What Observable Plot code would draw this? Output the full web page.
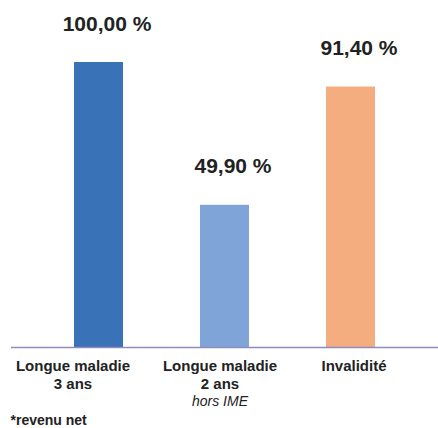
<!DOCTYPE html>
<html>
<head>
<meta charset="utf-8">
<script src="https://cdn.jsdelivr.net/npm/d3@7"></script>
<script src="https://cdn.jsdelivr.net/npm/@observablehq/plot@0.6"></script>
<style>
  html, body { margin: 0; padding: 0; background: #fff; }
  #chart svg { display: block; font-family: "Liberation Sans", Arial, sans-serif; }
</style>
</head>
<body>
<div id="chart"></div>
<script>
const categories = ["LM3", "LM2", "INV"];
const values = [100.00, 49.90, 91.40];
const valueLabels = ["100,00 %", "49,90 %", "91,40 %"];
const categoryLines1 = ["Longue maladie", "Longue maladie", "Invalidité"];
const categoryLines2 = ["3 ans", "2 ans", ""];
const categoryNotes = ["", "hors IME", ""];
const colors = ["#3a72b8", "#7fa5d8", "#f4ad7f"];
const footnote = "*revenu net";

const data = categories.map((c, i) => ({
  cat: c, value: values[i], label: valueLabels[i],
  line1: categoryLines1[i], line2: categoryLines2[i], note: categoryNotes[i], color: colors[i]
}));

const labelDx = [-26, -5, 3];
const catTextMarks = data.map((d, i) => [
  Plot.text([d], {x: "cat", y: 0, text: (d) => d.line2 ? d.line1 + "\n" + d.line2 : d.line1,
    dx: labelDx[i], dy: 11, lineAnchor: "top", lineHeight: 1.2, fontSize: 15, fontWeight: "bold",
    fill: "#222", textAnchor: "middle"}),
  d.note ? Plot.text([d], {x: "cat", y: 0, text: "note", dx: labelDx[i], dy: 58, lineAnchor: "bottom",
    fontSize: 14, fontStyle: "italic", fill: "#222", textAnchor: "middle"}) : null
]).flat().filter(Boolean);

const chart = Plot.plot({
  width: 438,
  height: 428,
  marginTop: 62,
  marginBottom: 81,
  marginLeft: 11,
  marginRight: 0,
  x: {domain: categories, paddingInner: 0.613, paddingOuter: 0.494, axis: null},
  y: {domain: [0, 100], axis: null},
  marks: [
    Plot.barY(data, {x: "cat", y: "value", fill: (d) => d.color}),
    Plot.ruleY([0], {stroke: "#8f8bc0", strokeWidth: 1.5}),
    Plot.text(data, {x: "cat", y: "value", text: "label", dx: 8, dy: -32, lineAnchor: "bottom",
      fontSize: 21, fontWeight: "bold", fill: "#222", textAnchor: "middle"}),
    ...catTextMarks,
    Plot.text([footnote], {frameAnchor: "bottom-left", dx: -1, dy: 77, lineAnchor: "bottom",
      fontSize: 14, fontWeight: "bold", fill: "#222", textAnchor: "start"})
  ]
});
document.getElementById("chart").appendChild(chart);
</script>
</body>
</html>
